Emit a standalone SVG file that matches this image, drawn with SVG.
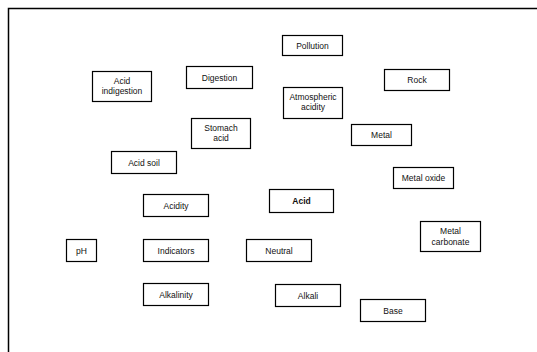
<svg xmlns="http://www.w3.org/2000/svg" width="537" height="352" viewBox="0 0 537 352">
<style>
.n rect{fill:#fff;stroke:#000;stroke-width:1.2}
.n text{font-family:"Liberation Sans",Arial,sans-serif;font-size:8.5px;fill:#111;text-anchor:middle}
.b text{font-weight:bold}
</style>
<rect width="537" height="352" fill="#fff"/>
<rect x="8.5" y="8.5" width="560" height="380" fill="none" stroke="#000" stroke-width="1.5"/>
<g id="connectors"></g>
<g id="pollution" class="n"><rect x="282.5" y="35.5" width="60" height="20"/><text x="312.5" y="48.5">Pollution</text></g>
<g id="acid-indigestion" class="n"><rect x="92.5" y="71.5" width="59" height="30"/><text x="122" y="83.5">Acid</text><text x="122" y="93.5">indigestion</text></g>
<g id="digestion" class="n"><rect x="186.5" y="66.5" width="66" height="22"/><text x="219.5" y="80.5">Digestion</text></g>
<g id="rock" class="n"><rect x="384.5" y="69.5" width="65" height="21"/><text x="417" y="83">Rock</text></g>
<g id="atmospheric-acidity" class="n"><rect x="283.5" y="87.5" width="59" height="31"/><text x="313" y="100">Atmospheric</text><text x="313" y="110">acidity</text></g>
<g id="stomach-acid" class="n"><rect x="191.5" y="118.5" width="59" height="30"/><text x="221" y="130.5">Stomach</text><text x="221" y="140.5">acid</text></g>
<g id="metal" class="n"><rect x="351.5" y="124.5" width="60" height="21"/><text x="381.5" y="138">Metal</text></g>
<g id="acid-soil" class="n"><rect x="111.5" y="151.5" width="65" height="22"/><text x="144" y="165.5">Acid soil</text></g>
<g id="metal-oxide" class="n"><rect x="393.5" y="167.5" width="60" height="21"/><text x="423.5" y="181">Metal oxide</text></g>
<g id="acid" class="n b"><rect x="269.5" y="189.5" width="64" height="23"/><text x="301.5" y="204">Acid</text></g>
<g id="acidity" class="n"><rect x="143.5" y="194.5" width="65" height="22"/><text x="176" y="208.5">Acidity</text></g>
<g id="metal-carbonate" class="n"><rect x="420.5" y="221.5" width="60" height="30"/><text x="450.5" y="233.5">Metal</text><text x="450.5" y="244.5">carbonate</text></g>
<g id="ph" class="n"><rect x="66.5" y="239.5" width="30" height="22"/><text x="81.5" y="253.5">pH</text></g>
<g id="indicators" class="n"><rect x="143.5" y="239.5" width="65" height="22"/><text x="176" y="253.5">Indicators</text></g>
<g id="neutral" class="n"><rect x="246.5" y="239.5" width="65" height="22"/><text x="279" y="253.5">Neutral</text></g>
<g id="alkalinity" class="n"><rect x="143.5" y="283.5" width="65" height="22"/><text x="176" y="297.5">Alkalinity</text></g>
<g id="alkali" class="n"><rect x="275.5" y="284.5" width="65" height="22"/><text x="308" y="298.5">Alkali</text></g>
<g id="base" class="n"><rect x="360.5" y="299.5" width="65" height="22"/><text x="393" y="313.5">Base</text></g>
</svg>
